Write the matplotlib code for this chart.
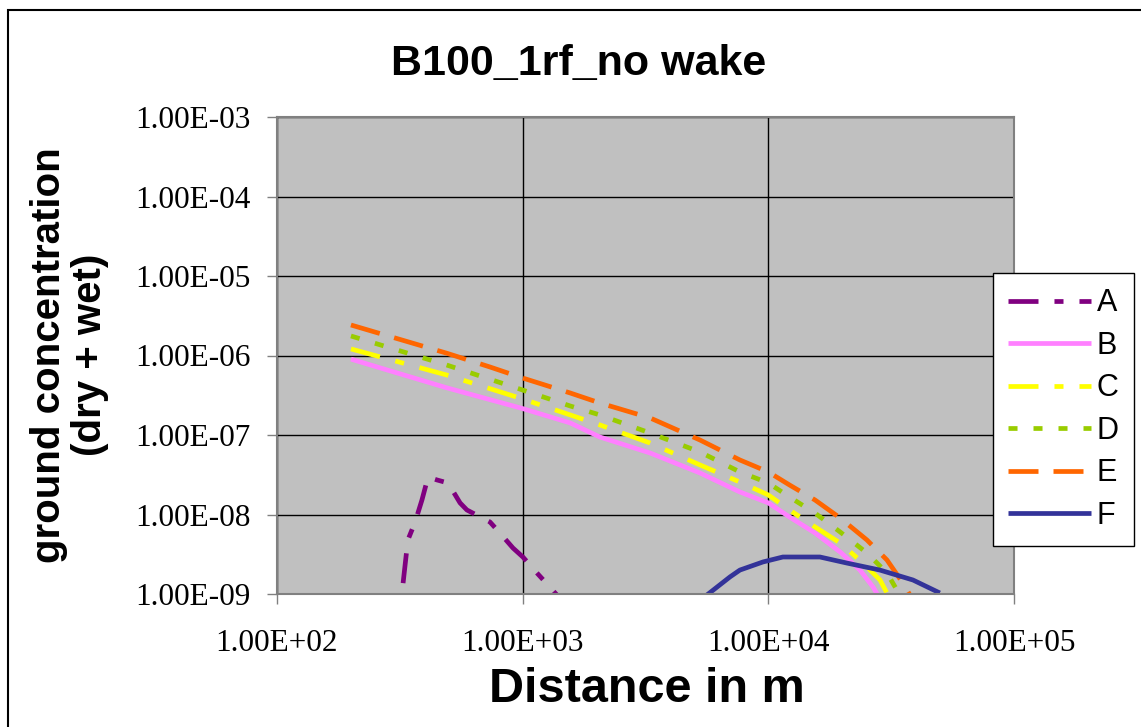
import matplotlib.pyplot as plt
from matplotlib.patches import Rectangle

plt.rcParams['lines.scale_dashes'] = False

# values (distance in m, concentration)
dist_a = [326, 341, 365, 389, 412, 448, 497, 556, 593, 736, 808, 913, 1002, 1143, 1291, 1379]
conc_a = [1.37e-9, 4.78e-9, 8.05e-9, 1.52e-8, 2.96e-8, 2.72e-8, 2.49e-8, 1.40e-8,
          1.14e-8, 8.05e-9, 5.85e-9, 3.79e-9, 2.92e-9, 1.84e-9, 1.22e-9, 9.7e-10]

dist_b = [200, 490, 1000, 1560, 2060, 3300, 5270, 7660, 10000, 12200, 15500, 19600, 23600, 26700, 27900]
conc_b = [9.0e-7, 3.93e-7, 2.15e-7, 1.42e-7, 9.44e-8, 5.94e-8, 3.33e-8, 1.92e-8,
          1.40e-8, 9.3e-9, 5.85e-9, 3.38e-9, 2.0e-9, 1.22e-9, 9.7e-10]

dist_c = [200, 490, 1000, 1560, 2060, 3300, 5270, 7660, 10000, 12200, 15500, 19600, 24300, 28500, 30700]
conc_c = [1.21e-6, 5.69e-7, 2.84e-7, 1.79e-7, 1.34e-7, 7.93e-8, 4.2e-8, 2.56e-8,
          1.76e-8, 1.14e-8, 6.97e-9, 4.38e-9, 2.45e-9, 1.50e-9, 9.7e-10]

dist_d = [200, 490, 1000, 1560, 2060, 3300, 5270, 7660, 10000, 12200, 15500, 19600, 25200, 30400, 34300]
conc_d = [1.76e-6, 7.6e-7, 3.68e-7, 2.32e-7, 1.79e-7, 1.06e-7, 6.11e-8, 3.43e-8,
          2.49e-8, 1.66e-8, 1.04e-8, 6.03e-9, 3.28e-9, 1.84e-9, 9.7e-10]

dist_e = [200, 490, 736, 1000, 1560, 2060, 3300, 5270, 7660, 10000, 12200, 15500, 19600, 25200, 30400, 35300, 37700]
conc_e = [2.42e-6, 1.07e-6, 7.17e-7, 5.21e-7, 3.38e-7, 2.53e-7, 1.64e-7, 8.65e-8, 4.85e-8,
          3.43e-8, 2.35e-8, 1.52e-8, 9.04e-9, 4.78e-9, 2.68e-9, 1.37e-9, 9.7e-10]

dist_f = [5620, 6980, 7660, 9510, 11460, 16220, 20890, 28460, 38790, 49900]
conc_f = [9.7e-10, 1.64e-9, 2.0e-9, 2.53e-9, 2.92e-9, 2.92e-9, 2.45e-9, 2.0e-9, 1.50e-9, 1.03e-9]

labels = ['A', 'B', 'C', 'D', 'E', 'F']
colors = ['#800080', '#FF80FF', '#FFFF00', '#99CC00', '#FF6600', '#333399']
dashes = [(21.6, 11.5, 6.5, 11.5), None, (21.6, 11.5, 6.5, 11.5), (6.5, 11.5), (21.6, 10.8), None]
series = [(dist_a, conc_a), (dist_b, conc_b), (dist_c, conc_c),
          (dist_d, conc_d), (dist_e, conc_e), (dist_f, conc_f)]

fig = plt.figure(figsize=(11.41, 7.27), dpi=100)
ax = fig.add_axes([277 / 1141, 1 - 594 / 727, 737 / 1141, 477 / 727])
ax.set_facecolor('#C0C0C0')

for (x, y), lab, col, d in zip(series, labels, colors, dashes):
    line, = ax.plot(x, y, color=col, lw=3.4, label=lab,
                    solid_capstyle='butt', dash_capstyle='butt')
    if d is not None:
        line.set_dashes(d)

ax.set_xscale('log')
ax.set_yscale('log')
ax.set_xlim(1e2, 1e5)
ax.set_ylim(1e-9, 1e-3)
ax.set_xticks([1e2, 1e3, 1e4, 1e5])
ax.set_yticks([1e-9, 1e-8, 1e-7, 1e-6, 1e-5, 1e-4, 1e-3])
ax.set_xticklabels(['1.00E+02', '1.00E+03', '1.00E+04', '1.00E+05'])
ax.set_yticklabels(['1.00E-09', '1.00E-08', '1.00E-07', '1.00E-06',
                    '1.00E-05', '1.00E-04', '1.00E-03'])
ax.minorticks_off()
ax.grid(True, color='black', lw=1.0)
ax.set_axisbelow(True)
for s in ax.spines.values():
    s.set_color('#808080')
    s.set_linewidth(1.5)
ax.tick_params(length=7, width=1, color='#808080', labelsize=22.5, pad=12)
for t in ax.get_xticklabels() + ax.get_yticklabels():
    t.set_family('Liberation Serif')
ax.tick_params(axis='x', pad=18)

fig.text(579 / 1141, 1 - 64 / 727, 'B100_1rf_no wake', ha='center', va='center',
         fontsize=31, fontweight='bold', family='Liberation Sans')
fig.text(647 / 1141, 1 - 690 / 727, 'Distance in m', ha='center', va='center',
         fontsize=35, fontweight='bold', family='Liberation Sans')
fig.text(70 / 1141, 1 - 355 / 727, 'ground concentration\n(dry + wet)', ha='center',
         va='center', rotation=90, multialignment='center', fontsize=29,
         fontweight='bold', family='Liberation Sans', linespacing=1.1)

leg = fig.legend(loc='upper left', bbox_to_anchor=(993 / 1141, 1 - 273 / 727),
                 bbox_transform=fig.transFigure, borderaxespad=0, fancybox=False,
                 edgecolor='black', framealpha=1, handlelength=2.7, handletextpad=0.2,
                 labelspacing=0.41, borderpad=0.5,
                 prop={'family': 'Liberation Sans', 'size': 22})
leg.get_frame().set_linewidth(1.0)

fig.patches.append(Rectangle((8 / 1141, -0.1), 1.2, 1.1 - 10 / 727,
                             transform=fig.transFigure, fill=False,
                             edgecolor='black', lw=1.5))

fig.savefig('out.png', dpi=100)
